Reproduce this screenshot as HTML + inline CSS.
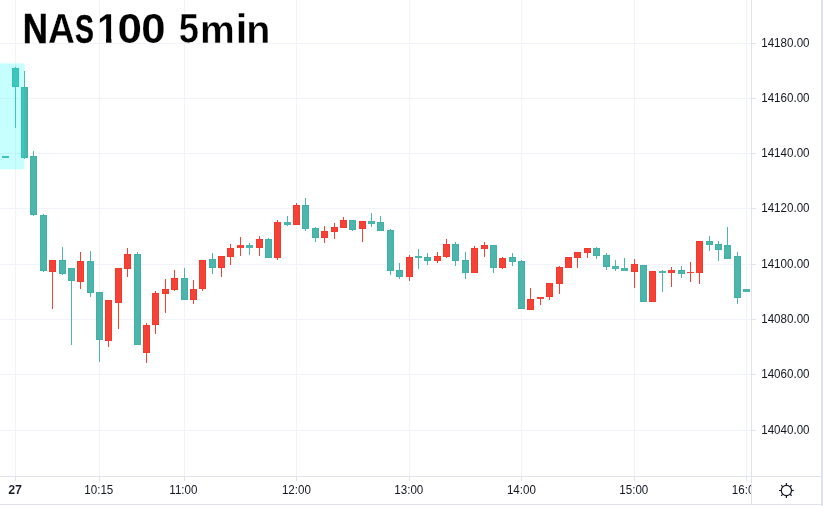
<!DOCTYPE html>
<html lang="en"><head><meta charset="utf-8"><title>NAS100 5min</title>
<style>html,body{margin:0;padding:0;background:#fff}body{width:823px;height:506px;overflow:hidden}svg{display:block;position:absolute;left:0;top:0}text{font-family:"Liberation Sans",sans-serif;fill:#131722}.lb{font-size:11.6px}.b{font-weight:bold;font-size:12px}</style></head><body>
<svg width="823" height="506" viewBox="0 0 823 506">
<rect x="0" y="0" width="823" height="506" fill="#fff"/>
<g fill="#f0f3fa" shape-rendering="crispEdges">
<rect x="15" y="0" width="1" height="476"/>
<rect x="99" y="0" width="1" height="476"/>
<rect x="184" y="0" width="1" height="476"/>
<rect x="296" y="0" width="1" height="476"/>
<rect x="409" y="0" width="1" height="476"/>
<rect x="521" y="0" width="1" height="476"/>
<rect x="634" y="0" width="1" height="476"/>
<rect x="746" y="0" width="1" height="476"/>
<rect x="0" y="43" width="751" height="1"/>
<rect x="0" y="98" width="751" height="1"/>
<rect x="0" y="153" width="751" height="1"/>
<rect x="0" y="208" width="751" height="1"/>
<rect x="0" y="264" width="751" height="1"/>
<rect x="0" y="319" width="751" height="1"/>
<rect x="0" y="374" width="751" height="1"/>
<rect x="0" y="430" width="751" height="1"/>
</g>
<g shape-rendering="crispEdges">
<rect x="2" y="156" width="7" height="2" fill="#4db6ac"/>
<rect x="15" y="67" width="1" height="61" fill="#4db6ac"/>
<rect x="12" y="68" width="7" height="19" fill="#42b0a5"/>
<rect x="13" y="69" width="5" height="17" fill="#4db6ac"/>
<rect x="24" y="71" width="1" height="88" fill="#4db6ac"/>
<rect x="21" y="87" width="7" height="71" fill="#42b0a5"/>
<rect x="22" y="88" width="5" height="69" fill="#4db6ac"/>
<rect x="33" y="151" width="1" height="65" fill="#4db6ac"/>
<rect x="30" y="156" width="7" height="59" fill="#42b0a5"/>
<rect x="31" y="157" width="5" height="57" fill="#4db6ac"/>
<rect x="43" y="214" width="1" height="58" fill="#4db6ac"/>
<rect x="40" y="215" width="7" height="56" fill="#42b0a5"/>
<rect x="41" y="216" width="5" height="54" fill="#4db6ac"/>
<rect x="52" y="260" width="1" height="49" fill="#f44336"/>
<rect x="49" y="260" width="7" height="12" fill="#f33a2c"/>
<rect x="50" y="261" width="5" height="10" fill="#f44336"/>
<rect x="62" y="247" width="1" height="28" fill="#4db6ac"/>
<rect x="59" y="260" width="7" height="14" fill="#42b0a5"/>
<rect x="60" y="261" width="5" height="12" fill="#4db6ac"/>
<rect x="71" y="268" width="1" height="77" fill="#4db6ac"/>
<rect x="68" y="268" width="7" height="13" fill="#42b0a5"/>
<rect x="69" y="269" width="5" height="11" fill="#4db6ac"/>
<rect x="80" y="252" width="1" height="37" fill="#f44336"/>
<rect x="77" y="261" width="7" height="21" fill="#f33a2c"/>
<rect x="78" y="262" width="5" height="19" fill="#f44336"/>
<rect x="90" y="251" width="1" height="46" fill="#4db6ac"/>
<rect x="87" y="261" width="7" height="32" fill="#42b0a5"/>
<rect x="88" y="262" width="5" height="30" fill="#4db6ac"/>
<rect x="99" y="292" width="1" height="70" fill="#4db6ac"/>
<rect x="96" y="292" width="7" height="48" fill="#42b0a5"/>
<rect x="97" y="293" width="5" height="46" fill="#4db6ac"/>
<rect x="108" y="300" width="1" height="47" fill="#f44336"/>
<rect x="105" y="300" width="7" height="41" fill="#f33a2c"/>
<rect x="106" y="301" width="5" height="39" fill="#f44336"/>
<rect x="118" y="268" width="1" height="61" fill="#f44336"/>
<rect x="115" y="268" width="7" height="35" fill="#f33a2c"/>
<rect x="116" y="269" width="5" height="33" fill="#f44336"/>
<rect x="127" y="248" width="1" height="29" fill="#f44336"/>
<rect x="124" y="254" width="7" height="15" fill="#f33a2c"/>
<rect x="125" y="255" width="5" height="13" fill="#f44336"/>
<rect x="137" y="252" width="1" height="93" fill="#4db6ac"/>
<rect x="134" y="254" width="7" height="91" fill="#42b0a5"/>
<rect x="135" y="255" width="5" height="89" fill="#4db6ac"/>
<rect x="146" y="323" width="1" height="40" fill="#f44336"/>
<rect x="143" y="325" width="7" height="28" fill="#f33a2c"/>
<rect x="144" y="326" width="5" height="26" fill="#f44336"/>
<rect x="155" y="291" width="1" height="43" fill="#f44336"/>
<rect x="152" y="293" width="7" height="32" fill="#f33a2c"/>
<rect x="153" y="294" width="5" height="30" fill="#f44336"/>
<rect x="165" y="279" width="1" height="34" fill="#f44336"/>
<rect x="162" y="289" width="7" height="5" fill="#f33a2c"/>
<rect x="163" y="290" width="5" height="3" fill="#f44336"/>
<rect x="174" y="270" width="1" height="21" fill="#f44336"/>
<rect x="171" y="278" width="7" height="12" fill="#f33a2c"/>
<rect x="172" y="279" width="5" height="10" fill="#f44336"/>
<rect x="184" y="268" width="1" height="32" fill="#4db6ac"/>
<rect x="181" y="278" width="7" height="22" fill="#42b0a5"/>
<rect x="182" y="279" width="5" height="20" fill="#4db6ac"/>
<rect x="193" y="280" width="1" height="24" fill="#f44336"/>
<rect x="190" y="289" width="7" height="11" fill="#f33a2c"/>
<rect x="191" y="290" width="5" height="9" fill="#f44336"/>
<rect x="202" y="260" width="1" height="31" fill="#f44336"/>
<rect x="199" y="260" width="7" height="29" fill="#f33a2c"/>
<rect x="200" y="261" width="5" height="27" fill="#f44336"/>
<rect x="212" y="253" width="1" height="21" fill="#4db6ac"/>
<rect x="209" y="259" width="7" height="9" fill="#42b0a5"/>
<rect x="210" y="260" width="5" height="7" fill="#4db6ac"/>
<rect x="221" y="256" width="1" height="21" fill="#f44336"/>
<rect x="218" y="256" width="7" height="12" fill="#f33a2c"/>
<rect x="219" y="257" width="5" height="10" fill="#f44336"/>
<rect x="230" y="244" width="1" height="21" fill="#f44336"/>
<rect x="227" y="248" width="7" height="9" fill="#f33a2c"/>
<rect x="228" y="249" width="5" height="7" fill="#f44336"/>
<rect x="240" y="237" width="1" height="19" fill="#f44336"/>
<rect x="237" y="245" width="7" height="3" fill="#f44336"/>
<rect x="249" y="243" width="1" height="12" fill="#4db6ac"/>
<rect x="246" y="245" width="7" height="3" fill="#4db6ac"/>
<rect x="259" y="236" width="1" height="20" fill="#f44336"/>
<rect x="256" y="239" width="7" height="9" fill="#f33a2c"/>
<rect x="257" y="240" width="5" height="7" fill="#f44336"/>
<rect x="268" y="238" width="1" height="20" fill="#4db6ac"/>
<rect x="265" y="239" width="7" height="19" fill="#42b0a5"/>
<rect x="266" y="240" width="5" height="17" fill="#4db6ac"/>
<rect x="277" y="220" width="1" height="40" fill="#f44336"/>
<rect x="274" y="222" width="7" height="36" fill="#f33a2c"/>
<rect x="275" y="223" width="5" height="34" fill="#f44336"/>
<rect x="287" y="216" width="1" height="10" fill="#4db6ac"/>
<rect x="284" y="222" width="7" height="3" fill="#4db6ac"/>
<rect x="296" y="203" width="1" height="22" fill="#f44336"/>
<rect x="293" y="205" width="7" height="20" fill="#f33a2c"/>
<rect x="294" y="206" width="5" height="18" fill="#f44336"/>
<rect x="305" y="198" width="1" height="33" fill="#4db6ac"/>
<rect x="302" y="205" width="7" height="24" fill="#42b0a5"/>
<rect x="303" y="206" width="5" height="22" fill="#4db6ac"/>
<rect x="315" y="227" width="1" height="15" fill="#4db6ac"/>
<rect x="312" y="228" width="7" height="10" fill="#42b0a5"/>
<rect x="313" y="229" width="5" height="8" fill="#4db6ac"/>
<rect x="324" y="226" width="1" height="17" fill="#f44336"/>
<rect x="321" y="231" width="7" height="7" fill="#f33a2c"/>
<rect x="322" y="232" width="5" height="5" fill="#f44336"/>
<rect x="334" y="223" width="1" height="16" fill="#f44336"/>
<rect x="331" y="227" width="7" height="5" fill="#f33a2c"/>
<rect x="332" y="228" width="5" height="3" fill="#f44336"/>
<rect x="343" y="217" width="1" height="11" fill="#f44336"/>
<rect x="340" y="220" width="7" height="8" fill="#f33a2c"/>
<rect x="341" y="221" width="5" height="6" fill="#f44336"/>
<rect x="352" y="220" width="1" height="11" fill="#4db6ac"/>
<rect x="349" y="220" width="7" height="10" fill="#42b0a5"/>
<rect x="350" y="221" width="5" height="8" fill="#4db6ac"/>
<rect x="362" y="221" width="1" height="21" fill="#f44336"/>
<rect x="359" y="221" width="7" height="8" fill="#f33a2c"/>
<rect x="360" y="222" width="5" height="6" fill="#f44336"/>
<rect x="371" y="213" width="1" height="14" fill="#4db6ac"/>
<rect x="368" y="221" width="7" height="3" fill="#4db6ac"/>
<rect x="380" y="216" width="1" height="15" fill="#4db6ac"/>
<rect x="377" y="222" width="7" height="9" fill="#42b0a5"/>
<rect x="378" y="223" width="5" height="7" fill="#4db6ac"/>
<rect x="390" y="229" width="1" height="46" fill="#4db6ac"/>
<rect x="387" y="230" width="7" height="41" fill="#42b0a5"/>
<rect x="388" y="231" width="5" height="39" fill="#4db6ac"/>
<rect x="399" y="263" width="1" height="16" fill="#4db6ac"/>
<rect x="396" y="270" width="7" height="7" fill="#42b0a5"/>
<rect x="397" y="271" width="5" height="5" fill="#4db6ac"/>
<rect x="409" y="255" width="1" height="26" fill="#f44336"/>
<rect x="406" y="257" width="7" height="20" fill="#f33a2c"/>
<rect x="407" y="258" width="5" height="18" fill="#f44336"/>
<rect x="418" y="249" width="1" height="20" fill="#4db6ac"/>
<rect x="415" y="256" width="7" height="2" fill="#4db6ac"/>
<rect x="427" y="253" width="1" height="12" fill="#4db6ac"/>
<rect x="424" y="257" width="7" height="4" fill="#42b0a5"/>
<rect x="425" y="258" width="5" height="2" fill="#4db6ac"/>
<rect x="437" y="252" width="1" height="11" fill="#f44336"/>
<rect x="434" y="256" width="7" height="5" fill="#f33a2c"/>
<rect x="435" y="257" width="5" height="3" fill="#f44336"/>
<rect x="446" y="239" width="1" height="19" fill="#f44336"/>
<rect x="443" y="244" width="7" height="13" fill="#f33a2c"/>
<rect x="444" y="245" width="5" height="11" fill="#f44336"/>
<rect x="455" y="242" width="1" height="24" fill="#4db6ac"/>
<rect x="452" y="244" width="7" height="17" fill="#42b0a5"/>
<rect x="453" y="245" width="5" height="15" fill="#4db6ac"/>
<rect x="465" y="252" width="1" height="27" fill="#4db6ac"/>
<rect x="462" y="260" width="7" height="13" fill="#42b0a5"/>
<rect x="463" y="261" width="5" height="11" fill="#4db6ac"/>
<rect x="474" y="246" width="1" height="27" fill="#f44336"/>
<rect x="471" y="248" width="7" height="25" fill="#f33a2c"/>
<rect x="472" y="249" width="5" height="23" fill="#f44336"/>
<rect x="484" y="242" width="1" height="15" fill="#f44336"/>
<rect x="481" y="245" width="7" height="4" fill="#f33a2c"/>
<rect x="482" y="246" width="5" height="2" fill="#f44336"/>
<rect x="493" y="245" width="1" height="28" fill="#4db6ac"/>
<rect x="490" y="245" width="7" height="23" fill="#42b0a5"/>
<rect x="491" y="246" width="5" height="21" fill="#4db6ac"/>
<rect x="502" y="257" width="1" height="12" fill="#f44336"/>
<rect x="499" y="258" width="7" height="10" fill="#f33a2c"/>
<rect x="500" y="259" width="5" height="8" fill="#f44336"/>
<rect x="512" y="253" width="1" height="13" fill="#4db6ac"/>
<rect x="509" y="257" width="7" height="5" fill="#42b0a5"/>
<rect x="510" y="258" width="5" height="3" fill="#4db6ac"/>
<rect x="521" y="260" width="1" height="49" fill="#4db6ac"/>
<rect x="518" y="261" width="7" height="48" fill="#42b0a5"/>
<rect x="519" y="262" width="5" height="46" fill="#4db6ac"/>
<rect x="530" y="288" width="1" height="22" fill="#f44336"/>
<rect x="527" y="299" width="7" height="11" fill="#f33a2c"/>
<rect x="528" y="300" width="5" height="9" fill="#f44336"/>
<rect x="540" y="297" width="1" height="8" fill="#f44336"/>
<rect x="537" y="297" width="7" height="2" fill="#f44336"/>
<rect x="549" y="283" width="1" height="17" fill="#f44336"/>
<rect x="546" y="283" width="7" height="14" fill="#f33a2c"/>
<rect x="547" y="284" width="5" height="12" fill="#f44336"/>
<rect x="559" y="266" width="1" height="28" fill="#f44336"/>
<rect x="556" y="267" width="7" height="17" fill="#f33a2c"/>
<rect x="557" y="268" width="5" height="15" fill="#f44336"/>
<rect x="565" y="257" width="7" height="11" fill="#f33a2c"/>
<rect x="566" y="258" width="5" height="9" fill="#f44336"/>
<rect x="577" y="252" width="1" height="16" fill="#f44336"/>
<rect x="574" y="252" width="7" height="6" fill="#f33a2c"/>
<rect x="575" y="253" width="5" height="4" fill="#f44336"/>
<rect x="587" y="248" width="1" height="10" fill="#f44336"/>
<rect x="584" y="248" width="7" height="5" fill="#f33a2c"/>
<rect x="585" y="249" width="5" height="3" fill="#f44336"/>
<rect x="596" y="247" width="1" height="12" fill="#4db6ac"/>
<rect x="593" y="248" width="7" height="8" fill="#42b0a5"/>
<rect x="594" y="249" width="5" height="6" fill="#4db6ac"/>
<rect x="606" y="253" width="1" height="17" fill="#4db6ac"/>
<rect x="603" y="255" width="7" height="12" fill="#42b0a5"/>
<rect x="604" y="256" width="5" height="10" fill="#4db6ac"/>
<rect x="615" y="260" width="1" height="11" fill="#4db6ac"/>
<rect x="612" y="266" width="7" height="3" fill="#4db6ac"/>
<rect x="624" y="258" width="1" height="13" fill="#4db6ac"/>
<rect x="621" y="268" width="7" height="3" fill="#4db6ac"/>
<rect x="634" y="259" width="1" height="29" fill="#f44336"/>
<rect x="631" y="264" width="7" height="8" fill="#f33a2c"/>
<rect x="632" y="265" width="5" height="6" fill="#f44336"/>
<rect x="640" y="265" width="7" height="37" fill="#42b0a5"/>
<rect x="641" y="266" width="5" height="35" fill="#4db6ac"/>
<rect x="649" y="271" width="7" height="31" fill="#f33a2c"/>
<rect x="650" y="272" width="5" height="29" fill="#f44336"/>
<rect x="662" y="270" width="1" height="22" fill="#4db6ac"/>
<rect x="659" y="271" width="7" height="2" fill="#4db6ac"/>
<rect x="671" y="267" width="1" height="20" fill="#f44336"/>
<rect x="668" y="270" width="7" height="3" fill="#f44336"/>
<rect x="681" y="266" width="1" height="12" fill="#4db6ac"/>
<rect x="678" y="270" width="7" height="4" fill="#42b0a5"/>
<rect x="679" y="271" width="5" height="2" fill="#4db6ac"/>
<rect x="690" y="262" width="1" height="20" fill="#f44336"/>
<rect x="687" y="272" width="7" height="1" fill="#f44336"/>
<rect x="699" y="241" width="1" height="43" fill="#f44336"/>
<rect x="696" y="241" width="7" height="32" fill="#f33a2c"/>
<rect x="697" y="242" width="5" height="30" fill="#f44336"/>
<rect x="709" y="236" width="1" height="15" fill="#4db6ac"/>
<rect x="706" y="241" width="7" height="4" fill="#42b0a5"/>
<rect x="707" y="242" width="5" height="2" fill="#4db6ac"/>
<rect x="718" y="241" width="1" height="20" fill="#4db6ac"/>
<rect x="715" y="244" width="7" height="6" fill="#42b0a5"/>
<rect x="716" y="245" width="5" height="4" fill="#4db6ac"/>
<rect x="727" y="227" width="1" height="32" fill="#4db6ac"/>
<rect x="724" y="245" width="7" height="14" fill="#42b0a5"/>
<rect x="725" y="246" width="5" height="12" fill="#4db6ac"/>
<rect x="737" y="252" width="1" height="52" fill="#4db6ac"/>
<rect x="734" y="256" width="7" height="42" fill="#42b0a5"/>
<rect x="735" y="257" width="5" height="40" fill="#4db6ac"/>
<rect x="743" y="289" width="7" height="3" fill="#4db6ac"/>
</g>
<rect x="0" y="63.4" width="24.5" height="105.9" fill="#00ffff" fill-opacity="0.22"/>
<g fill="#e0e3eb" shape-rendering="crispEdges">
<rect x="751" y="0" width="1" height="505"/>
<rect x="0" y="476" width="821" height="1"/>
<rect x="0" y="504" width="823" height="1"/>
<rect x="821" y="0" width="2" height="506"/>
<rect x="752" y="43" width="4" height="1"/>
<rect x="752" y="98" width="4" height="1"/>
<rect x="752" y="153" width="4" height="1"/>
<rect x="752" y="208" width="4" height="1"/>
<rect x="752" y="264" width="4" height="1"/>
<rect x="752" y="319" width="4" height="1"/>
<rect x="752" y="374" width="4" height="1"/>
<rect x="752" y="430" width="4" height="1"/>
<rect x="15" y="477" width="1" height="4"/>
<rect x="99" y="477" width="1" height="4"/>
<rect x="184" y="477" width="1" height="4"/>
<rect x="296" y="477" width="1" height="4"/>
<rect x="409" y="477" width="1" height="4"/>
<rect x="521" y="477" width="1" height="4"/>
<rect x="634" y="477" width="1" height="4"/>
<rect x="746" y="477" width="1" height="4"/>
</g>
<text class="lb" transform="translate(761.2 46.5) scale(1 1.09)">14180.00</text>
<text class="lb" transform="translate(761.2 101.5) scale(1 1.09)">14160.00</text>
<text class="lb" transform="translate(761.2 156.5) scale(1 1.09)">14140.00</text>
<text class="lb" transform="translate(761.2 211.5) scale(1 1.09)">14120.00</text>
<text class="lb" transform="translate(761.2 267.5) scale(1 1.09)">14100.00</text>
<text class="lb" transform="translate(761.2 322.5) scale(1 1.09)">14080.00</text>
<text class="lb" transform="translate(761.2 377.5) scale(1 1.09)">14060.00</text>
<text class="lb" transform="translate(761.2 433.5) scale(1 1.09)">14040.00</text>
<text class="b" transform="translate(15.1 494) scale(1.04 1.02)" text-anchor="middle" stroke="#fff" stroke-width="0.14">27</text>
<text class="lb" transform="translate(98.8 494) scale(1 1.09)" text-anchor="middle">10:15</text>
<text class="lb" transform="translate(183.4 494) scale(1 1.09)" text-anchor="middle">11:00</text>
<text class="lb" transform="translate(296.4 494) scale(1 1.09)" text-anchor="middle">12:00</text>
<text class="lb" transform="translate(408.8 494) scale(1 1.09)" text-anchor="middle">13:00</text>
<text class="lb" transform="translate(521.4 494) scale(1 1.09)" text-anchor="middle">14:00</text>
<text class="lb" transform="translate(633.8 494) scale(1 1.09)" text-anchor="middle">15:00</text>
<clipPath id="cl"><rect x="0" y="477" width="751" height="27"/></clipPath>
<g clip-path="url(#cl)"><text class="lb" transform="translate(746.3 494) scale(1 1.09)" text-anchor="middle">16:00</text></g>
<g stroke="#131722" stroke-width="1.2" fill="none" stroke-linecap="butt">
<circle cx="786.4" cy="490.5" r="5.1"/>
<line x1="791.80" y1="490.50" x2="793.80" y2="490.50"/>
<line x1="790.22" y1="494.32" x2="791.63" y2="495.73"/>
<line x1="786.40" y1="495.90" x2="786.40" y2="497.90"/>
<line x1="782.58" y1="494.32" x2="781.17" y2="495.73"/>
<line x1="781.00" y1="490.50" x2="779.00" y2="490.50"/>
<line x1="782.58" y1="486.68" x2="781.17" y2="485.27"/>
<line x1="786.40" y1="485.10" x2="786.40" y2="483.10"/>
<line x1="790.22" y1="486.68" x2="791.63" y2="485.27"/>
</g>
<clipPath id="c1"><rect x="0" y="0" width="97" height="60"/><rect x="97" y="0" width="22" height="37"/><rect x="106.0" y="36" width="5.4" height="9"/><rect x="119" y="0" width="300" height="60"/></clipPath>
<text clip-path="url(#c1)" font-weight="bold" stroke-linejoin="miter" style="fill:#000"><tspan x="22.83" y="42.95" font-size="41.72" textLength="25.05" lengthAdjust="spacingAndGlyphs" stroke="#000" stroke-width="0.5">N</tspan><tspan x="48.02" y="42.85" font-size="42.15" textLength="26.91" lengthAdjust="spacingAndGlyphs" stroke="#fff" stroke-width="0.3">A</tspan><tspan x="74.98" y="42.50" font-size="41.13" textLength="18.93" lengthAdjust="spacingAndGlyphs" stroke="#000" stroke-width="0.4">S</tspan><tspan x="97.13" y="42.85" font-size="42.15" textLength="20.87" lengthAdjust="spacingAndGlyphs" stroke="#fff" stroke-width="0.3">1</tspan><tspan x="117.64" y="42.80" font-size="42.01" textLength="24.47" lengthAdjust="spacingAndGlyphs" stroke="#fff" stroke-width="0.2">0</tspan><tspan x="141.15" y="42.80" font-size="42.01" textLength="24.35" lengthAdjust="spacingAndGlyphs" stroke="#fff" stroke-width="0.2">0</tspan> <tspan x="178.72" y="42.95" font-size="42.44" textLength="20.25" lengthAdjust="spacingAndGlyphs" stroke="#fff" stroke-width="0.5">5</tspan><tspan x="199.97" y="42.95" font-size="39.15" textLength="34.82" lengthAdjust="spacingAndGlyphs" stroke="#fff" stroke-width="0.5">m</tspan><tspan x="235.74" y="42.85" font-size="40.14" textLength="11.56" lengthAdjust="spacingAndGlyphs" stroke="#fff" stroke-width="0.3">i</tspan><tspan x="246.24" y="42.95" font-size="39.15" textLength="24.16" lengthAdjust="spacingAndGlyphs" stroke="#fff" stroke-width="0.5">n</tspan></text>
</svg></body></html>
